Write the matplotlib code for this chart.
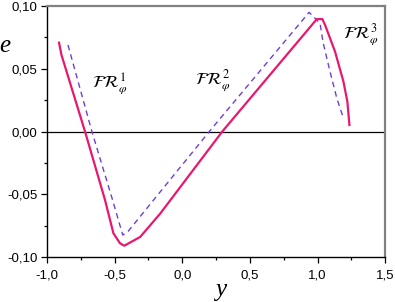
import numpy as np
import matplotlib.pyplot as plt
from matplotlib.ticker import FuncFormatter, MultipleLocator

# solid curve
solid_y = [-0.911, -0.893, -0.719, -0.571, -0.509, -0.460, -0.428, -0.311, -0.163,
           0.296, 0.995, 1.036, 1.056, 1.130, 1.192, 1.221, 1.236]
solid_e = [0.0708, 0.0610, 0.0, -0.0546, -0.0811, -0.0891, -0.0910, -0.0840, -0.0654,
           0.0, 0.0896, 0.0896, 0.0849, 0.0636, 0.0397, 0.0237, 0.0052]

# dashed curve
dash_y = [-0.845, -0.668, -0.515, -0.440, -0.40, 0.20, 0.938, 1.019, 1.040, 1.093, 1.143, 1.192]
dash_e = [0.069, 0.0, -0.0546, -0.0825, -0.0795, 0.0, 0.095, 0.0862, 0.0716, 0.0476, 0.0265, 0.0105]

labels = [r'$\mathcal{FR}_{\varphi}^{\,1}$', r'$\mathcal{FR}_{\varphi}^{\,2}$', r'$\mathcal{FR}_{\varphi}^{\,3}$']
label_y = [-0.665, 0.096, 1.189]
label_e = [0.0347, 0.0378, 0.0745]

plt.rcParams['font.family'] = 'Liberation Sans'
plt.rcParams['mathtext.fontset'] = 'stix'
plt.rcParams['axes.unicode_minus'] = False

fig = plt.figure(figsize=(3.95, 3.02), dpi=100)
axes = fig.add_axes([0.119, 0.149, 0.856, 0.831])

axes.axhline(0, color='k', linewidth=0.9, zorder=1)
axes.plot(dash_y, dash_e, color='#6E3FD6', linewidth=1.0, dashes=(4, 3), zorder=2)
axes.plot(solid_y, solid_e, color='#E8186E', linewidth=1.6, zorder=3)

for lab, x, y in zip(labels, label_y, label_e):
    axes.text(x, y, lab, fontsize=12.5, va='baseline', ha='left')

axes.set_xlim(-1.0, 1.5)
axes.set_ylim(-0.10, 0.10)
axes.xaxis.set_major_locator(MultipleLocator(0.5))
axes.xaxis.set_minor_locator(MultipleLocator(0.25))
axes.yaxis.set_major_locator(MultipleLocator(0.05))
axes.yaxis.set_minor_locator(MultipleLocator(0.025))
axes.xaxis.set_major_formatter(FuncFormatter(lambda v, p: f'{v:.1f}'.replace('.', ',')))
axes.yaxis.set_major_formatter(FuncFormatter(lambda v, p: f'{v:.2f}'.replace('.', ',')))
axes.tick_params(which='major', direction='out', length=4, width=0.9, labelsize=9.5, pad=3)
axes.tick_params(which='minor', direction='out', length=2.5, width=0.9)
axes.tick_params(axis='x', which='major', pad=5)

for side in ['top', 'right']:
    axes.spines[side].set_color('#808080')
    axes.spines[side].set_linewidth(1.6)
for side in ['left', 'bottom']:
    axes.spines[side].set_linewidth(1.0)

axes.set_xlabel('y', fontsize=18, family='Liberation Serif', style='italic', va='center')
axes.xaxis.set_label_coords(0.515, -0.131)
axes.set_ylabel('e', fontsize=18, family='Liberation Serif', style='italic',
                rotation=0, va='center', ha='center')
axes.yaxis.set_label_coords(-0.124, 0.841)

fig.savefig('out.png', dpi=100)
